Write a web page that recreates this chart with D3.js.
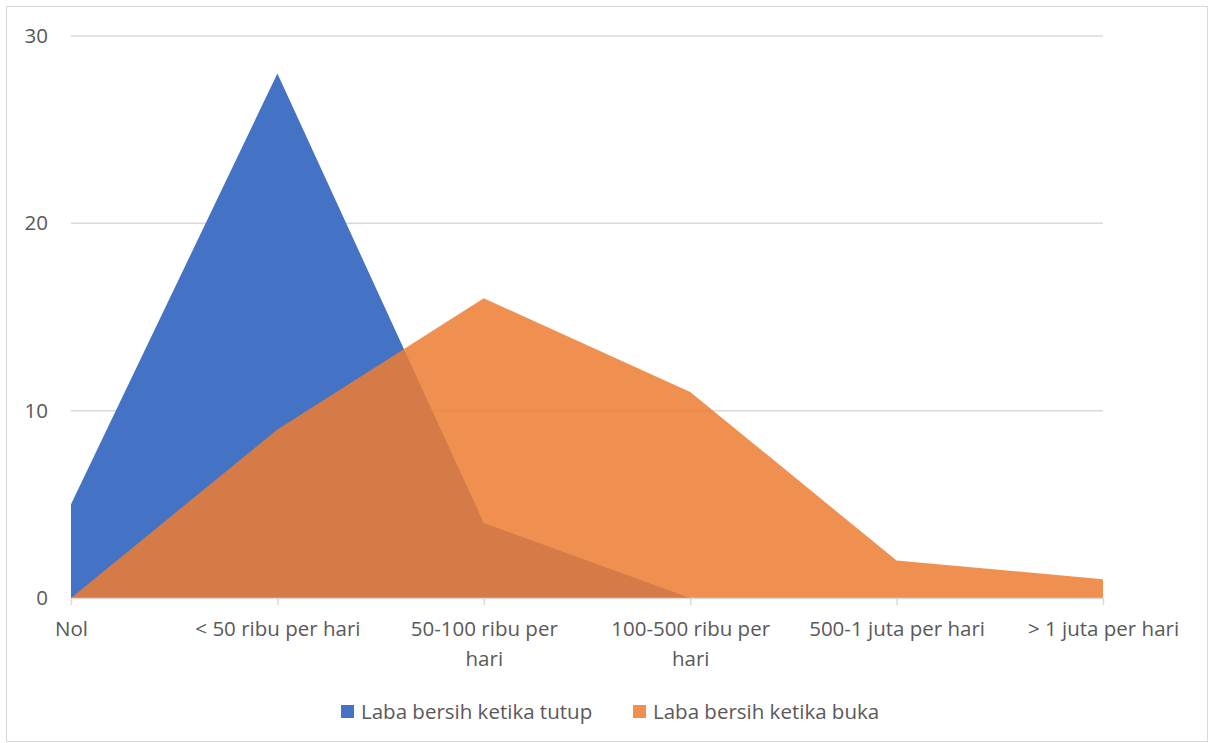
<!DOCTYPE html>
<html><head><meta charset="utf-8">
<script src="https://cdn.jsdelivr.net/npm/d3@7/dist/d3.min.js"></script>
<style>body{margin:0;background:#fff}svg{display:block}text{font-family:"Open Sans",sans-serif;fill:#595959}</style>
</head><body><svg id="c" width="1209" height="743"></svg>
<script>
const categories = ["Nol", "< 50 ribu per hari", "50-100 ribu per hari", "100-500 ribu per hari", "500-1 juta per hari", "> 1 juta per hari"];
const seriesNames = ["Laba bersih ketika tutup", "Laba bersih ketika buka"];
const tutup = [5, 28, 4, 0, 0, 0];
const buka = [0, 9, 16, 11, 2, 1];
const yTicks = [0, 10, 20, 30];
const colors = ["#4472C4", "#ED7D31"];
const FS = 20.5;

const svg = d3.select("#c");
svg.append("rect").attr("x", 6.5).attr("y", 6.5).attr("width", 1201).attr("height", 735)
  .attr("fill", "#fff").attr("stroke", "#D9D9D9");

const x = d3.scalePoint().domain(categories).range([71, 1103]);
const y = d3.scaleLinear().domain([0, 30]).range([598, 36]);

// gridlines
svg.append("g").selectAll("line").data(yTicks.filter(d => d > 0)).join("line")
  .attr("x1", 71).attr("x2", 1103).attr("y1", d => y(d)).attr("y2", d => y(d))
  .attr("stroke", "#D9D9D9").attr("stroke-width", 1.5);

const area = d3.area().x((d, i) => x(categories[i])).y0(y(0)).y1(d => y(d));
svg.append("path").datum(tutup).attr("d", area).attr("fill", colors[0]);
svg.append("path").datum(buka).attr("d", area).attr("fill", colors[1]).attr("fill-opacity", 0.85);

// x axis
const xAxis = svg.append("g").attr("transform", `translate(0,${y(0)})`)
  .call(d3.axisBottom(x).tickSize(7).tickSizeOuter(0).tickPadding(16));
xAxis.select(".domain").attr("stroke", "#D9D9D9").attr("stroke-width", 1.5);
xAxis.selectAll(".tick line").attr("stroke", "#D9D9D9").attr("stroke-width", 1.5);
xAxis.selectAll(".tick text").attr("font-size", FS).attr("fill", "#595959")
  .attr("font-family", "Open Sans, sans-serif").each(function (d) {
    const t = d3.select(this);
    const words = d.split(" ");
    t.text(null);
    let line = [];
    let ts = t.append("tspan").attr("x", 0).attr("dy", "0.71em");
    for (const w of words) {
      line.push(w);
      ts.text(line.join(" "));
      if (ts.node().getComputedTextLength() > 186 && line.length > 1) {
        line.pop(); ts.text(line.join(" "));
        line = [w];
        ts = t.append("tspan").attr("x", 0).attr("dy", 30).text(w);
      }
    }
  });

// y axis
const yAxis = svg.append("g").attr("transform", "translate(48,0)")
  .call(d3.axisLeft(y).tickValues(yTicks).tickSize(0).tickPadding(0));
yAxis.select(".domain").remove();
yAxis.selectAll(".tick text").attr("font-size", FS).attr("fill", "#595959")
  .attr("font-family", "Open Sans, sans-serif");

// legend
const legX = [341, 633];
const leg = svg.append("g").selectAll("g").data(seriesNames).join("g")
  .attr("transform", (d, i) => `translate(${legX[i]},705)`);
leg.append("rect").attr("width", 13).attr("height", 13)
  .attr("fill", (d, i) => colors[i]).attr("fill-opacity", (d, i) => i ? 0.85 : 1);
leg.append("text").attr("x", 20).attr("y", 7).attr("dy", "0.35em").attr("font-size", FS).text(d => d);
</script></body></html>
